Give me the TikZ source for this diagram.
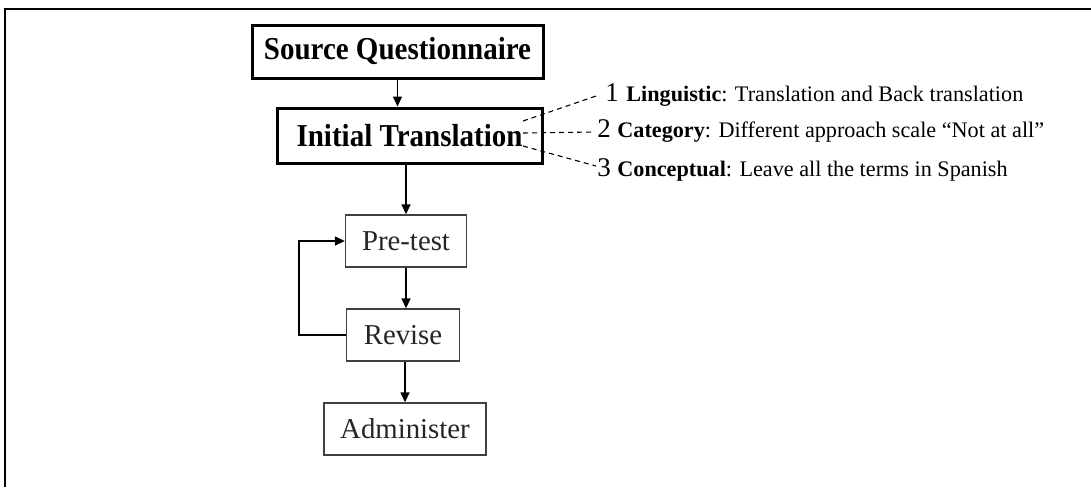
\documentclass[tikz,border=0pt]{standalone}
\usepackage{fontspec}
\setmainfont{Liberation Serif}
\usetikzlibrary{arrows.meta}

\tikzset{
  mainbox/.style={draw=black, line width=1.5pt, inner sep=0pt,
    font=\fontsize{14.5}{16}\selectfont\bfseries},
  stagebox/.style={draw=black!75, line width=0.7pt, inner sep=0pt, text=black!85,
    font=\fontsize{14.4}{16}\selectfont},
  flow/.style={line width=0.75pt, -{Triangle[length=5pt,width=4.5pt]}},
  link/.style={line width=0.55pt, dash pattern=on 2.5pt off 2pt},
  numlabel/.style={anchor=base west, inner sep=0pt, font=\fontsize{13.5}{15}\selectfont},
  itemlabel/.style={anchor=base west, inner sep=0pt, font=\fontsize{11.1}{13}\selectfont},
}

\begin{document}
\begin{tikzpicture}[x=0.5pt, y=-0.5pt]
  \useasboundingbox (0,0) rectangle (1091,487);
  \fill[white] (0,0) rectangle (1091,487);

  % outer frame
  \draw[line width=1pt] (5,487) -- (5,9) -- (1091,9);

  % main flow
  \node[mainbox, minimum width=145.5pt, minimum height=26.5pt] (src) at (397.5,51.5) {\scalebox{1}[1.1]{Source Questionnaire}};
  \node[mainbox, minimum width=132.5pt, minimum height=27.5pt] (init) at (409.5,135.5) {\scalebox{1}[1.1]{Initial Translation}};
  \node[stagebox, minimum width=60.5pt, minimum height=26pt] (pre) at (406,241) {Pre-test};
  \node[stagebox, minimum width=56.5pt, minimum height=26pt] (rev) at (403,335) {Revise};
  \node[stagebox, minimum width=81pt, minimum height=26pt] (adm) at (405,429) {Administer};

  \draw[flow] (src.south) -- (src.south |- init.north);
  \draw[flow] (pre.north |- init.south) -- (pre.north);
  \draw[flow] (pre.south) -- (pre.south |- rev.north);
  \draw[flow] (adm.north |- rev.south) -- (adm.north);

  % revision loop back to the pre-test
  \coordinate (loop) at (299,335);
  \draw[flow] (rev.west) -- (loop) |- (pre.west);

  % equivalence types
  \node[numlabel] (n1) at (605,101) {1};
  \node[itemlabel] (t1) at (626,101) {\textbf{Linguistic}: Translation and Back translation};
  \node[numlabel] (n2) at (597,137) {2};
  \node[itemlabel] (t2) at (617,137) {\textbf{Category}: Different approach scale “Not at all”};
  \node[numlabel] (n3) at (597,176) {3};
  \node[itemlabel] (t3) at (617,176) {\textbf{Conceptual}: Leave all the terms in Spanish};

  \coordinate (s1) at (523,121);
  \coordinate (s2) at (523,133);
  \coordinate (s3) at (523,146);
  \coordinate (e1) at (599,95);
  \coordinate (e2) at (594,132);
  \coordinate (e3) at (596,166);
  \draw[link] (s1) -- (e1);
  \draw[link] (s2) -- (e2);
  \draw[link] (s3) -- (e3);
\end{tikzpicture}
\end{document}
